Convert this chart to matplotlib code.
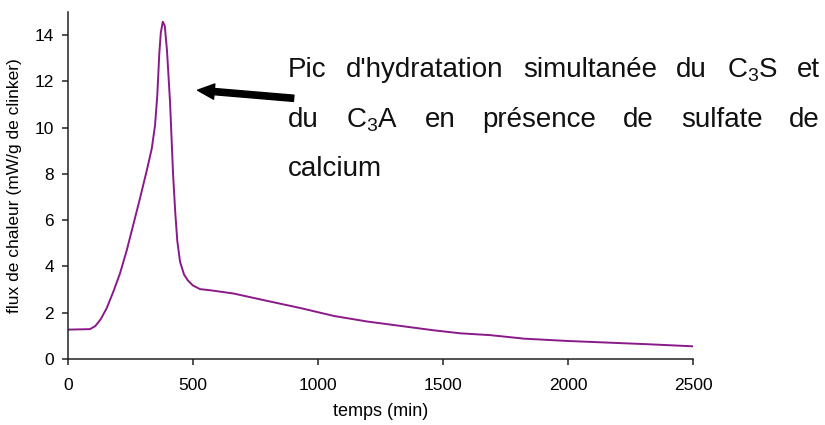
import matplotlib
matplotlib.use("Agg")
import matplotlib.pyplot as plt

plt.rcParams['font.family'] = ['Liberation Sans', 'DejaVu Sans']
plt.rcParams['mathtext.fontset'] = 'custom'
plt.rcParams['mathtext.rm'] = 'Liberation Sans'
plt.rcParams['mathtext.it'] = 'Liberation Sans'

# Data
time_min = [0, 89, 110, 132, 156, 182, 209, 236, 262, 289, 316, 336, 349, 358,
            366, 372, 380, 388, 397, 409, 421, 430, 438, 449, 465, 480, 500, 529,
            571, 663, 798, 931, 1064, 1197, 1330, 1463, 1570, 1690, 1823, 1996,
            2156, 2315, 2495]
heat_flux = [1.27, 1.29, 1.42, 1.72, 2.2, 2.9, 3.7, 4.7, 5.8, 6.95, 8.15, 9.1,
             10.1, 11.4, 13.2, 14.1, 14.58, 14.4, 13.3, 11.1, 8.0, 6.3, 5.1, 4.2,
             3.65, 3.4, 3.18, 3.02, 2.97, 2.83, 2.51, 2.2, 1.86, 1.62, 1.43, 1.24,
             1.11, 1.03, 0.88, 0.78, 0.71, 0.64, 0.55]
x_ticks = [0, 500, 1000, 1500, 2000, 2500]
y_ticks = [0, 2, 4, 6, 8, 10, 12, 14]
x_label = "temps (min)"
y_label = "flux de chaleur (mW/g de clinker)"
annot_lines = [
    ["Pic", "d'hydratation", "simultanée", "du", "C$_3$S", "et"],
    ["du", "C$_3$A", "en", "présence", "de", "sulfate", "de"],
    ["calcium"],
]
arrow_tip = (519, 11.62)
arrow_tail = (903, 11.27)

W, H = 825, 425
fig = plt.figure(figsize=(W / 100, H / 100), dpi=100)
ax = fig.add_axes([67.7 / W, (H - 359) / H, (693.3 - 67.7) / W, (359 - 12) / H])

ax.plot(time_min, heat_flux, color='#8A1A8A', lw=1.4)
ax.set_xlim(0, 2500)
ax.set_ylim(0, 15)
ax.set_xticks(x_ticks)
ax.set_yticks(y_ticks)
for s in ['top', 'right']:
    ax.spines[s].set_visible(False)
for s in ['left', 'bottom']:
    ax.spines[s].set_linewidth(1.1)
    ax.spines[s].set_color('#222222')
ax.tick_params(axis='both', direction='out', length=4, width=1.1, color='#222222',
               labelsize=12.5)
ax.tick_params(axis='x', pad=10)
ax.tick_params(axis='y', pad=6)
ax.set_xlabel(x_label, fontsize=13, labelpad=7)
ax.set_ylabel(y_label, fontsize=12.5, labelpad=9)

ax.annotate('', xy=arrow_tip, xytext=arrow_tail, xycoords='data',
            arrowprops=dict(arrowstyle='simple,head_length=1.2,head_width=1.1,tail_width=0.45',
                            mutation_scale=10, color='black', shrinkA=0, shrinkB=0))

# Justified annotation text
left_px, right_px = 288, 820
baselines = [77.3, 127.3, 176]
fig.canvas.draw()
renderer = fig.canvas.get_renderer()
for words, by in zip(annot_lines, baselines):
    texts = [fig.text(0, (H - by) / H, w, fontsize=20, va='baseline', ha='left',
                      color='#111111') for w in words]
    widths = [t.get_window_extent(renderer).width for t in texts]
    if len(words) > 1:
        gap = (right_px - left_px - sum(widths)) / (len(words) - 1)
    else:
        gap = 0
    x = left_px
    for t, w in zip(texts, widths):
        t.set_x(x / W)
        x += w + gap

fig.savefig('out.png', dpi=100)
